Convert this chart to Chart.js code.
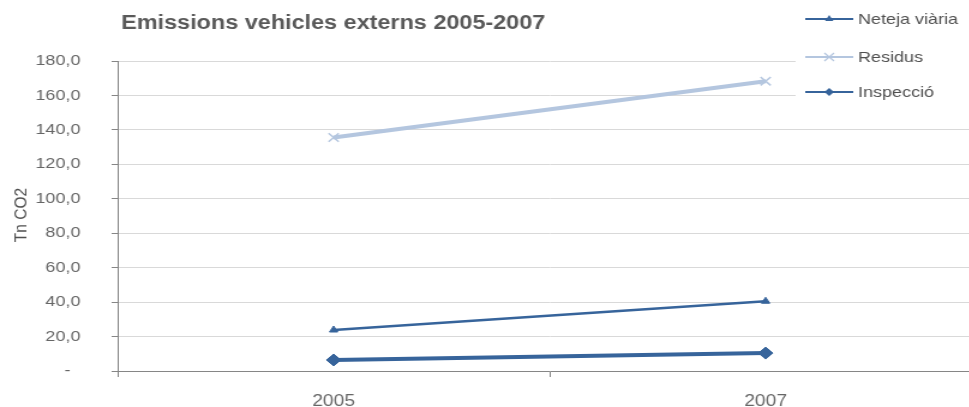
<!DOCTYPE html>
<html>
<head>
<meta charset="utf-8">
<script src="https://cdn.jsdelivr.net/npm/chart.js@4/dist/chart.umd.min.js"></script>
<style>
  html, body { margin: 0; padding: 0; background: #fff; overflow: hidden; }
  #wrap { width: 969px; height: 407px; overflow: hidden; }
  #stretch { transform: scaleX(1.2); transform-origin: 0 0; width: 830px; height: 407px; }
</style>
</head>
<body>
<div id="wrap"><div id="stretch"><canvas id="myChart" width="830" height="407"></canvas></div></div>
<script>
// DATA
const years = ['2005', '2007'];
const netejaViaria = [23.8, 40.5];
const residus = [135.6, 168.3];
const inspeccio = [6.4, 10.4];
const yTicks = [0, 20, 40, 60, 80, 100, 120, 140, 160, 180];
const chartTitle = 'Emissions vehicles externs 2005-2007';
const yTitle = 'Tn CO2';

const dark = '#37649b';
const light = '#b4c6df';
const FONT = '"Liberation Sans", Arial, sans-serif';

// legend + titles drawn on top
const overlay = {
    id: 'overlay',
    afterDraw(chart) {
        const ctx = chart.ctx;
        ctx.save();
        // legend box over the grid
        ctx.fillStyle = '#fff';
        ctx.fillRect(663, 0, 167, 105);

        ctx.fillStyle = '#595959';
        ctx.font = 'bold 19.5px ' + FONT;
        ctx.textBaseline = 'middle';
        ctx.textAlign = 'left';
        ctx.fillText(chartTitle, 101, 24);

        const items = [
            {text: 'Neteja viària', color: dark, width: 2, style: 'tri', y: 19},
            {text: 'Residus', color: light, width: 2, style: 'x', y: 57},
            {text: 'Inspecció', color: dark, width: 2, style: 'dia', y: 92}
        ];
        items.forEach(it => {
            ctx.strokeStyle = it.color;
            ctx.fillStyle = it.color;
            ctx.lineWidth = it.width;
            ctx.beginPath();
            ctx.moveTo(671, it.y);
            ctx.lineTo(711, it.y);
            ctx.stroke();
            const cx = 691, cy = it.y;
            ctx.beginPath();
            if (it.style === 'tri') {
                ctx.moveTo(cx, cy - 4); ctx.lineTo(cx + 3.5, cy + 2); ctx.lineTo(cx - 3.5, cy + 2);
                ctx.closePath(); ctx.fill();
            } else if (it.style === 'dia') {
                ctx.moveTo(cx, cy - 4); ctx.lineTo(cx + 4, cy); ctx.lineTo(cx, cy + 4); ctx.lineTo(cx - 4, cy);
                ctx.closePath(); ctx.fill();
            } else {
                ctx.lineWidth = 1.2;
                ctx.moveTo(cx - 4, cy - 4); ctx.lineTo(cx + 4, cy + 4);
                ctx.moveTo(cx + 4, cy - 4); ctx.lineTo(cx - 4, cy + 4);
                ctx.stroke();
            }
            ctx.fillStyle = '#505050';
            ctx.font = '15px ' + FONT;
            ctx.fillText(it.text, 715, it.y + 1);
        });

        // y axis title
        ctx.translate(18, 215);
        ctx.rotate(-Math.PI / 2);
        ctx.textAlign = 'center';
        ctx.fillStyle = '#505050';
        ctx.font = '15.5px ' + FONT;
        ctx.fillText(yTitle, 0, 0);
        ctx.restore();
    }
};

const ctx = document.getElementById('myChart').getContext('2d');
const myChart = new Chart(ctx, {
    type: 'line',
    data: {
        labels: years,
        datasets: [{
            label: 'Neteja viària',
            data: netejaViaria,
            borderColor: dark,
            backgroundColor: dark,
            borderWidth: 2.5,
            pointStyle: 'triangle',
            pointRadius: 4,
            pointBorderWidth: 1
        }, {
            label: 'Residus',
            data: residus,
            borderColor: light,
            backgroundColor: light,
            borderWidth: 4,
            pointStyle: 'crossRot',
            pointRadius: 6,
            pointBorderWidth: 1.5
        }, {
            label: 'Inspecció',
            data: inspeccio,
            borderColor: dark,
            backgroundColor: dark,
            borderWidth: 4,
            pointStyle: 'rectRot',
            pointRadius: 6,
            pointBorderWidth: 1
        }]
    },
    options: {
        responsive: false,
        animation: false,
        layout: { padding: { top: 61, right: 12, left: 0, bottom: 0 } },
        plugins: {
            legend: { display: false },
            title: { display: false },
            tooltip: { enabled: false }
        },
        scales: {
            x: {
                offset: true,
                grid: { offset: true, drawOnChartArea: false, drawTicks: true, tickLength: 6, color: '#868686' },
                border: { color: '#868686' },
                ticks: { color: '#666666', font: { family: FONT, size: 16 }, padding: 15 },
                afterFit(scale) { scale.height = 36; }
            },
            y: {
                min: 0,
                max: 180,
                afterBuildTicks(scale) { scale.ticks = yTicks.map(v => ({value: v})); },
                grid: { color: '#d9d9d9', tickColor: '#868686', tickLength: 5 },
                border: { color: '#868686' },
                ticks: {
                    color: '#666666',
                    font: { family: FONT, size: 15 },
                    padding: 26,
                    callback: v => v === 0 ? '-  ' : v.toFixed(1).replace('.', ',')
                },
                afterFit(scale) { scale.width = 98; }
            }
        }
    },
    plugins: [overlay]
});
</script>
</body>
</html>
